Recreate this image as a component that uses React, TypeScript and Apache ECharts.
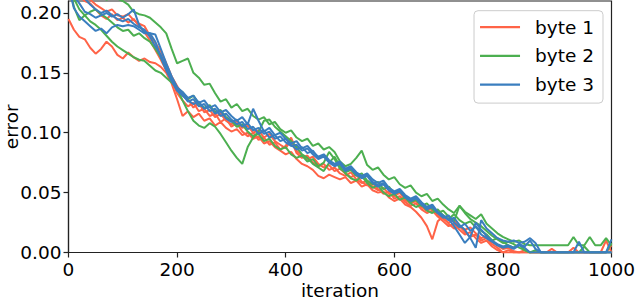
import React, { useEffect, useRef } from "react";
import * as echarts from "echarts";

// iterations sampled every 10 steps, 0..1000
const ITERATIONS: number[] = Array.from({ length: 101 }, (_, i) => i * 10);

const X_TICKS = [0, 200, 400, 600, 800, 1000];
const Y_TICKS = [0, 0.05, 0.1, 0.15, 0.2];

const SERIES_NAMES = ["byte 1", "byte 2", "byte 3"];
const COLORS = ["#ff6347", "#4caf50", "#3a7ebf"];

// byte 1 (three runs)
const byte1RunA = [
  0.232, 0.224, 0.219, 0.214, 0.211, 0.207, 0.204, 0.201, 0.203, 0.198, 0.197,
  0.199, 0.194, 0.191, 0.189, 0.181, 0.175, 0.168, 0.158, 0.147, 0.139,
  0.131, 0.128, 0.121, 0.125, 0.117, 0.119, 0.113, 0.116, 0.110, 0.107,
  0.110, 0.104, 0.106, 0.100, 0.102, 0.096, 0.099, 0.093, 0.090, 0.087,
  0.094, 0.083, 0.079, 0.081, 0.075, 0.072, 0.074, 0.069, 0.071, 0.066,
  0.064, 0.067, 0.061, 0.058, 0.060, 0.055, 0.052, 0.054, 0.049, 0.047,
  0.050, 0.044, 0.041, 0.043, 0.038, 0.035, 0.037, 0.031, 0.028, 0.025,
  0.027, 0.022, 0.019, 0.021, 0.016, 0.012, 0.014, 0.009, 0.006, 0.003,
  0.004, 0.001, 0.000, 0.002, 0.000, 0.000, 0.000, 0.000, 0.000, 0.000,
  0.000, 0.000, 0.000, 0.000, 0.000, 0.000, 0.000, 0.000, 0.010, 0.000,
];
const byte1RunB = [
  0.195, 0.186, 0.180, 0.178, 0.171, 0.166, 0.170, 0.176, 0.172, 0.165, 0.162,
  0.167, 0.163, 0.160, 0.162, 0.159, 0.158, 0.155, 0.150, 0.141, 0.128,
  0.114, 0.118, 0.113, 0.116, 0.110, 0.112, 0.106, 0.109, 0.104, 0.101,
  0.103, 0.098, 0.100, 0.095, 0.097, 0.091, 0.093, 0.088, 0.085, 0.082,
  0.084, 0.078, 0.074, 0.072, 0.069, 0.064, 0.062, 0.065, 0.063, 0.061,
  0.063, 0.058, 0.060, 0.055, 0.057, 0.052, 0.050, 0.051, 0.046, 0.043,
  0.045, 0.040, 0.038, 0.034, 0.029, 0.022, 0.011, 0.026, 0.030, 0.024,
  0.020, 0.022, 0.017, 0.013, 0.015, 0.010, 0.012, 0.007, 0.004, 0.000,
  0.002, 0.000, 0.000, 0.000, 0.000, 0.000, 0.000, 0.000, 0.003, 0.000,
  0.000, 0.000, 0.000, 0.000, 0.000, 0.000, 0.000, 0.000, 0.000, 0.006,
];
const byte1RunC = [
  0.228, 0.220, 0.214, 0.210, 0.208, 0.203, 0.198, 0.195, 0.199, 0.194, 0.196,
  0.192, 0.195, 0.189, 0.184, 0.177, 0.169, 0.161, 0.152, 0.144, 0.133,
  0.127, 0.122, 0.125, 0.118, 0.120, 0.114, 0.116, 0.109, 0.112, 0.105,
  0.108, 0.101, 0.097, 0.100, 0.094, 0.096, 0.090, 0.092, 0.086, 0.089,
  0.096, 0.085, 0.081, 0.078, 0.080, 0.074, 0.071, 0.073, 0.068, 0.070,
  0.066, 0.063, 0.065, 0.059, 0.056, 0.058, 0.053, 0.049, 0.051, 0.045,
  0.047, 0.042, 0.039, 0.041, 0.036, 0.033, 0.035, 0.030, 0.026, 0.022,
  0.024, 0.019, 0.015, 0.017, 0.012, 0.008, 0.010, 0.005, 0.002, 0.000,
  0.000, 0.000, 0.000, 0.000, 0.000, 0.000, 0.000, 0.000, 0.000, 0.000,
  0.000, 0.000, 0.004, 0.000, 0.000, 0.000, 0.000, 0.000, 0.000, 0.000,
];

// byte 2 (three runs)
const byte2RunA = [
  0.235, 0.228, 0.222, 0.218, 0.216, 0.213, 0.215, 0.211, 0.214, 0.212, 0.210,
  0.207, 0.201, 0.199, 0.198, 0.196, 0.192, 0.188, 0.183, 0.170, 0.158,
  0.160, 0.162, 0.150, 0.146, 0.140, 0.141, 0.133, 0.126, 0.128, 0.121,
  0.124, 0.118, 0.120, 0.114, 0.111, 0.113, 0.107, 0.109, 0.103, 0.100,
  0.102, 0.096, 0.093, 0.095, 0.089, 0.091, 0.086, 0.088, 0.084, 0.076,
  0.072, 0.074, 0.079, 0.085, 0.073, 0.069, 0.071, 0.065, 0.061, 0.063,
  0.057, 0.054, 0.056, 0.050, 0.047, 0.049, 0.043, 0.045, 0.040, 0.036,
  0.033, 0.039, 0.034, 0.031, 0.028, 0.032, 0.024, 0.020, 0.016, 0.013,
  0.011, 0.009, 0.010, 0.007, 0.006, 0.006, 0.006, 0.006, 0.006, 0.006,
  0.006, 0.006, 0.013, 0.006, 0.006, 0.013, 0.006, 0.006, 0.012, 0.006,
];
const byte2RunB = [
  0.222, 0.212, 0.203, 0.198, 0.193, 0.190, 0.186, 0.181, 0.176, 0.172, 0.169,
  0.166, 0.163, 0.161, 0.160, 0.156, 0.152, 0.150, 0.146, 0.142, 0.137,
  0.127, 0.118, 0.110, 0.106, 0.104, 0.108, 0.105, 0.099, 0.092, 0.085,
  0.079, 0.074, 0.088, 0.096, 0.101, 0.110, 0.111, 0.105, 0.101, 0.097,
  0.093, 0.088, 0.082, 0.079, 0.074, 0.071, 0.068, 0.075, 0.080, 0.072,
  0.066, 0.062, 0.060, 0.064, 0.058, 0.054, 0.056, 0.050, 0.047, 0.049,
  0.044, 0.046, 0.041, 0.038, 0.040, 0.035, 0.033, 0.036, 0.031, 0.028,
  0.032, 0.027, 0.024, 0.026, 0.021, 0.018, 0.015, 0.010, 0.012, 0.009,
  0.006, 0.004, 0.007, 0.002, 0.000, 0.000, 0.000, 0.000, 0.000, 0.000,
  0.000, 0.000, 0.000, 0.000, 0.005, 0.000, 0.000, 0.000, 0.000, 0.008,
];
const byte2RunC = [
  0.226, 0.205, 0.194, 0.198, 0.201, 0.203, 0.199, 0.196, 0.192, 0.188, 0.185,
  0.186, 0.181, 0.183, 0.179, 0.176, 0.170, 0.163, 0.153, 0.145, 0.137,
  0.134, 0.128, 0.131, 0.124, 0.121, 0.123, 0.117, 0.119, 0.113, 0.110,
  0.105, 0.107, 0.101, 0.097, 0.099, 0.093, 0.095, 0.089, 0.086, 0.088,
  0.082, 0.079, 0.081, 0.076, 0.078, 0.072, 0.075, 0.084, 0.078, 0.070,
  0.067, 0.069, 0.064, 0.066, 0.060, 0.057, 0.059, 0.053, 0.055, 0.049,
  0.051, 0.046, 0.042, 0.044, 0.039, 0.041, 0.036, 0.033, 0.035, 0.030,
  0.026, 0.039, 0.033, 0.028, 0.025, 0.022, 0.018, 0.014, 0.011, 0.008,
  0.009, 0.007, 0.004, 0.002, 0.000, 0.002, 0.000, 0.000, 0.000, 0.000,
  0.000, 0.000, 0.000, 0.000, 0.000, 0.000, 0.000, 0.000, 0.000, 0.000,
];

// byte 3 (three runs)
const byte3RunA = [
  0.228, 0.214, 0.208, 0.201, 0.199, 0.196, 0.198, 0.200, 0.197, 0.199, 0.196,
  0.199, 0.203, 0.190, 0.184, 0.183, 0.182, 0.170, 0.158, 0.147, 0.138,
  0.134, 0.129, 0.131, 0.125, 0.127, 0.121, 0.123, 0.117, 0.119, 0.114,
  0.110, 0.113, 0.107, 0.120, 0.110, 0.101, 0.104, 0.098, 0.100, 0.095,
  0.091, 0.093, 0.087, 0.089, 0.084, 0.080, 0.082, 0.077, 0.074, 0.076,
  0.070, 0.072, 0.067, 0.064, 0.066, 0.061, 0.058, 0.060, 0.054, 0.051,
  0.053, 0.048, 0.045, 0.047, 0.042, 0.038, 0.040, 0.034, 0.031, 0.027,
  0.029, 0.023, 0.019, 0.012, 0.004, 0.027, 0.020, 0.016, 0.012, 0.010,
  0.009, 0.010, 0.008, 0.009, 0.012, 0.008, 0.000, 0.000, 0.000, 0.000,
  0.000, 0.000, 0.000, 0.009, 0.000, 0.000, 0.000, 0.000, 0.000, 0.011,
];
const byte3RunB = [
  0.222, 0.204, 0.197, 0.193, 0.189, 0.185, 0.187, 0.183, 0.188, 0.190, 0.189,
  0.190, 0.189, 0.186, 0.183, 0.183, 0.176, 0.163, 0.152, 0.143, 0.135,
  0.131, 0.127, 0.124, 0.126, 0.120, 0.122, 0.116, 0.118, 0.112, 0.109,
  0.111, 0.105, 0.108, 0.102, 0.104, 0.099, 0.101, 0.095, 0.097, 0.092,
  0.089, 0.090, 0.085, 0.087, 0.082, 0.078, 0.080, 0.075, 0.072, 0.074,
  0.068, 0.070, 0.065, 0.062, 0.064, 0.058, 0.055, 0.057, 0.052, 0.049,
  0.051, 0.046, 0.043, 0.045, 0.040, 0.036, 0.038, 0.033, 0.029, 0.031,
  0.025, 0.021, 0.024, 0.018, 0.022, 0.015, 0.012, 0.009, 0.006, 0.004,
  0.005, 0.003, 0.006, 0.004, 0.000, 0.000, 0.000, 0.000, 0.000, 0.000,
  0.000, 0.000, 0.000, 0.000, 0.000, 0.000, 0.000, 0.000, 0.000, 0.000,
];
const byte3RunC = [
  0.235, 0.225, 0.218, 0.212, 0.207, 0.203, 0.200, 0.202, 0.198, 0.195, 0.193,
  0.195, 0.191, 0.188, 0.186, 0.180, 0.172, 0.165, 0.155, 0.146, 0.137,
  0.132, 0.126, 0.128, 0.122, 0.124, 0.118, 0.120, 0.114, 0.116, 0.111,
  0.107, 0.109, 0.103, 0.105, 0.099, 0.102, 0.096, 0.098, 0.093, 0.095,
  0.090, 0.086, 0.088, 0.083, 0.085, 0.079, 0.081, 0.076, 0.073, 0.075,
  0.069, 0.071, 0.066, 0.063, 0.065, 0.059, 0.056, 0.058, 0.052, 0.050,
  0.052, 0.047, 0.044, 0.046, 0.041, 0.037, 0.039, 0.033, 0.030, 0.028,
  0.022, 0.015, 0.008, 0.013, 0.025, 0.019, 0.014, 0.010, 0.007, 0.005,
  0.006, 0.004, 0.007, 0.005, 0.010, 0.003, 0.000, 0.000, 0.000, 0.000,
  0.000, 0.000, 0.000, 0.000, 0.000, 0.000, 0.000, 0.000, 0.000, 0.000,
];

const RUNS: { name: string; color: string; values: number[] }[] = [
  { name: SERIES_NAMES[0], color: COLORS[0], values: byte1RunA },
  { name: SERIES_NAMES[0], color: COLORS[0], values: byte1RunB },
  { name: SERIES_NAMES[0], color: COLORS[0], values: byte1RunC },
  { name: SERIES_NAMES[1], color: COLORS[1], values: byte2RunA },
  { name: SERIES_NAMES[1], color: COLORS[1], values: byte2RunB },
  { name: SERIES_NAMES[1], color: COLORS[1], values: byte2RunC },
  { name: SERIES_NAMES[2], color: COLORS[2], values: byte3RunA },
  { name: SERIES_NAMES[2], color: COLORS[2], values: byte3RunB },
  { name: SERIES_NAMES[2], color: COLORS[2], values: byte3RunC },
];

const FONT = "DejaVu Sans";
const FS = 18.5;

export default function App() {
  const ref = useRef<HTMLDivElement>(null);
  useEffect(() => {
    document.body.style.margin = "0";
    const chart = echarts.init(ref.current!, null, { renderer: "svg" });
    chart.setOption({
      animation: false,
      textStyle: { fontFamily: FONT },
      grid: {
        left: 68.5,
        right: 24.5,
        top: 1,
        bottom: 47.5,
        outerBoundsMode: "none",
        containLabel: false,
        show: true,
        borderColor: "#222",
        borderWidth: 1.2,
        backgroundColor: "transparent",
      },
      legend: {
        data: SERIES_NAMES,
        orient: "vertical",
        right: 33,
        top: 10.7,
        icon: "rect",
        itemWidth: 40,
        itemHeight: 2.2,
        itemGap: 9.7,
        padding: [7, 9, 9, 6],
        backgroundColor: "rgba(255,255,255,0.8)",
        borderColor: "#cccccc",
        borderWidth: 1,
        borderRadius: 4,
        textStyle: {
          fontFamily: FONT,
          fontSize: FS,
          lineHeight: 18,
          color: "#000",
          padding: [0, 0, 0, 10],
        },
      },
      xAxis: {
        type: "value",
        min: 0,
        max: 1000,
        interval: 200,
        name: "iteration",
        nameLocation: "middle",
        nameGap: 30,
        nameMoveOverlap: false,
        nameTextStyle: { fontFamily: FONT, fontSize: FS, color: "#000", lineHeight: 16 },
        axisLine: { show: true, lineStyle: { color: "#222", width: 1.2 } },
        axisTick: {
          show: true,
          length: 5,
          lineStyle: { color: "#222", width: 1.2 },
          customValues: X_TICKS,
        },
        axisLabel: {
          fontFamily: FONT,
          fontSize: FS,
          color: "#000",
          margin: 7,
          customValues: X_TICKS,
          formatter: (v: number) => String(v),
        },
        splitLine: { show: false },
      },
      yAxis: {
        type: "value",
        min: 0,
        max: 0.21,
        interval: 0.05,
        name: "error",
        nameLocation: "middle",
        nameGap: 49,
        nameMoveOverlap: false,
        nameTextStyle: { fontFamily: FONT, fontSize: FS, color: "#000", lineHeight: 16 },
        axisLine: { show: true, lineStyle: { color: "#222", width: 1.2 } },
        axisTick: {
          show: true,
          length: 5,
          lineStyle: { color: "#222", width: 1.2 },
          customValues: Y_TICKS,
        },
        axisLabel: {
          fontFamily: FONT,
          fontSize: FS,
          color: "#000",
          margin: 7,
          customValues: Y_TICKS,
          formatter: (v: number) => v.toFixed(2),
        },
        splitLine: { show: false },
      },
      series: RUNS.map((r) => ({
        type: "line",
        name: r.name,
        symbol: "none",
        showSymbol: false,
        clip: true,
        color: r.color,
        lineStyle: { color: r.color, width: 2 },
        data: ITERATIONS.map((it, i) => [it, r.values[i]]),
      })),
    });
    return () => chart.dispose();
  }, []);
  return <div ref={ref} style={{ width: 636, height: 300 }} />;
}
